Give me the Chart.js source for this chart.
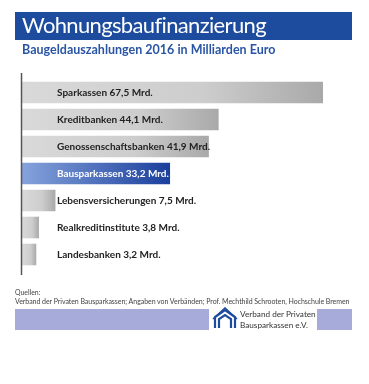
<!DOCTYPE html>
<html><head><meta charset="utf-8">
<script src="https://cdn.jsdelivr.net/npm/chart.js@4/dist/chart.umd.min.js"></script>
<style>
html,body{margin:0;padding:0;background:#fff;}
#wrap{position:relative;width:369px;height:384px;overflow:hidden;font-family:Lato,"Open Sans",sans-serif;}
canvas{position:absolute;left:0;top:0;}
.abs{position:absolute;white-space:nowrap;}
#banner{left:15px;top:12px;width:337px;height:28px;background:#1d4b9e;}
#title{left:22px;top:10px;font-size:22px;letter-spacing:-0.65px;color:#fff;line-height:30px;}
#sub{left:22px;top:42px;font-size:12.5px;font-weight:bold;color:#2a55a5;line-height:16px;}
#q1{left:15px;top:288px;font-size:6.9px;color:#444;line-height:9px;}
#q2{left:15px;top:297px;font-size:7px;letter-spacing:-0.05px;color:#444;line-height:9px;}
.lav{top:309px;height:21px;background:#a6abd9;}
#l1{left:15px;width:194px;}
#l2{left:317px;width:35px;}
#lt1{left:240px;top:309px;font-size:8.2px;color:#333;line-height:10px;}
#lt2{left:240px;top:320px;font-size:8.2px;color:#333;line-height:10px;}
#logo{left:212px;top:307px;}
</style></head>
<body><div id="wrap">
<canvas id="c" width="369" height="384"></canvas>
<div class="abs" id="banner"></div>
<div class="abs" id="title">Wohnungsbaufinanzierung</div>
<div class="abs" id="sub">Baugeldauszahlungen 2016 in Milliarden Euro</div>
<div class="abs" id="q1">Quellen:</div>
<div class="abs" id="q2">Verband der Privaten Bausparkassen; Angaben von Verbänden; Prof. Mechthild Schrooten, Hochschule Bremen</div>
<div class="abs lav" id="l1"></div>
<div class="abs lav" id="l2"></div>
<svg class="abs" id="logo" width="26" height="22" viewBox="0 0 26 22">
<g fill="none" stroke="#1d4b9e" stroke-width="2.2" stroke-linejoin="miter">
<path d="M3 21 V10 L13 3 L23 10 V21"/>
<path d="M7 21 V12 L13 8 L19 12 V21"/>
<path d="M1 12 L13 1 L25 12" stroke-width="1.6"/>
</g></svg>
<div class="abs" id="lt1">Verband der Privaten</div>
<div class="abs" id="lt2">Bausparkassen e.V.</div>
</div>
<script>
const categories = ["Sparkassen","Kreditbanken","Genossenschaftsbanken","Bausparkassen","Lebensversicherungen","Realkreditinstitute","Landesbanken"];
const values = [67.5,44.1,41.9,33.2,7.5,3.8,3.2];
const valueLabels = ["67,5 Mrd.","44,1 Mrd.","41,9 Mrd.","33,2 Mrd.","7,5 Mrd.","3,8 Mrd.","3,2 Mrd."];
const highlight = "Bausparkassen";

function barFill(ctx){
  const chart = ctx.chart;
  const a = chart.chartArea;
  if(!a) return '#ccc';
  const i = ctx.dataIndex;
  const x0 = a.left;
  const x1 = chart.scales.x.getPixelForValue(values[i]);
  const g = chart.ctx.createLinearGradient(x0,0,Math.max(x1,x0+1),0);
  if(categories[i]===highlight){
    g.addColorStop(0,'#86a3dc'); g.addColorStop(1,'#1a3f9c');
  } else {
    g.addColorStop(0,'#d9d9d9'); g.addColorStop(0.6,'#cdcdcd'); g.addColorStop(1,'#a9a9a9');
  }
  return g;
}

const labelPlugin = {
  id:'labels',
  afterDatasetsDraw(chart){
    const c = chart.ctx, a = chart.chartArea;
    const ys = chart.scales.y;
    c.save();
    c.strokeStyle = '#555'; c.lineWidth = 1.5;
    c.beginPath(); c.moveTo(a.left - 0.5, a.top - 6); c.lineTo(a.left - 0.5, a.bottom + 7); c.stroke();
    c.font = 'bold 10px Lato, "Open Sans", sans-serif';
    c.textBaseline = 'middle';
    categories.forEach((cat,i)=>{
      const y = ys.getPixelForValue(i);
      c.fillStyle = cat===highlight ? '#ffffff' : '#222222';
      c.fillText(cat + ' ' + valueLabels[i], a.left + 35, y + 0.5);
    });
    c.restore();
  }
};

new Chart(document.getElementById('c'),{
  type:'bar',
  data:{labels:categories,datasets:[{data:values,backgroundColor:barFill,borderWidth:0,categoryPercentage:0.8,barPercentage:1}]},
  options:{
    indexAxis:'y',responsive:false,animation:false,
    layout:{padding:{left:22,right:17,top:79,bottom:116}},
    plugins:{legend:{display:false},tooltip:{enabled:false},title:{display:false}},
    scales:{
      x:{display:false,min:0,max:74},
      y:{display:false}
    }
  },
  plugins:[labelPlugin]
});
</script>
</body></html>
